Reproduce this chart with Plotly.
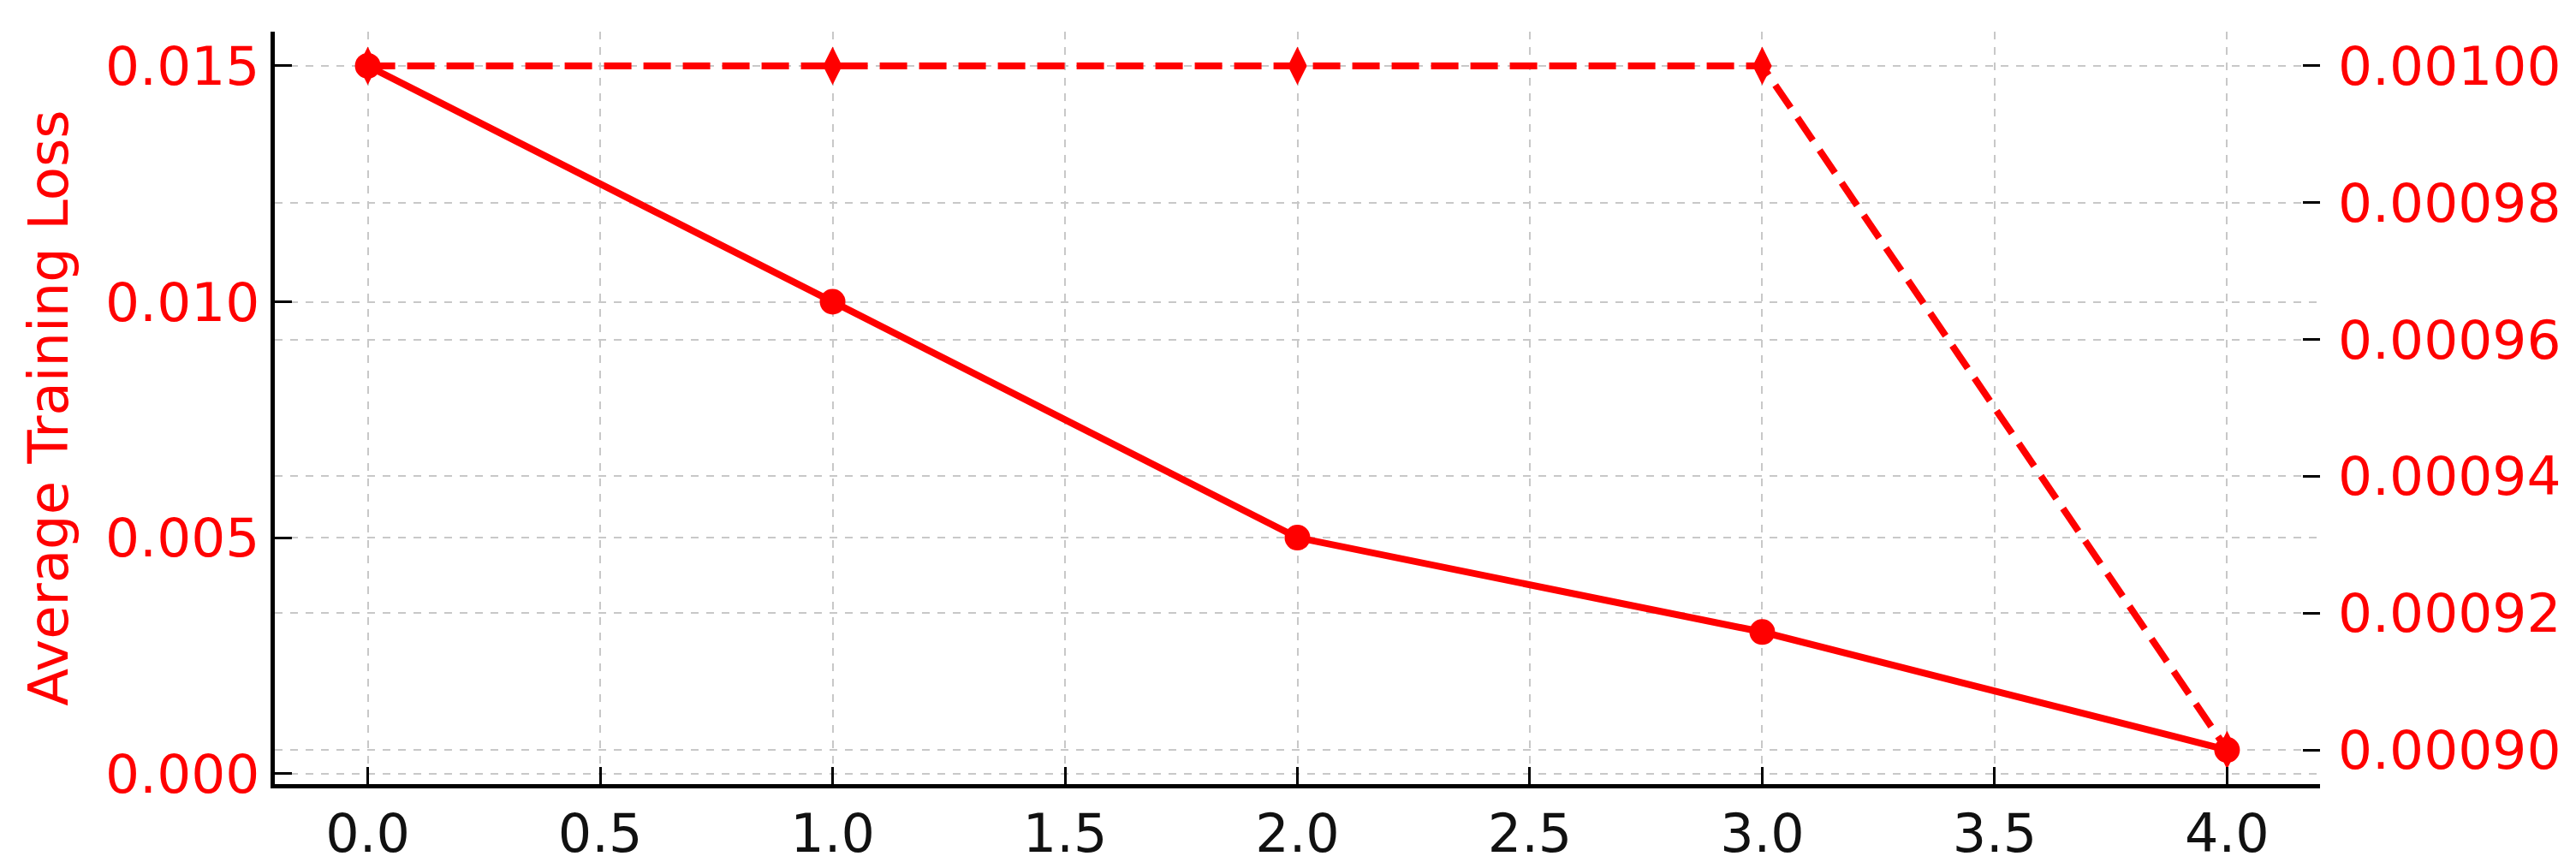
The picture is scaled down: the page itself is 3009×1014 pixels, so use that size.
import plotly.graph_objects as go

epochs = [0, 1, 2, 3, 4]
avg_loss = [0.015, 0.010, 0.005, 0.003, 0.0005]
lr_values = [0.00100, 0.00100, 0.00100, 0.00100, 0.00090]

red = "#ff0000"
font = "DejaVu Sans"

fig = go.Figure()

fig.add_trace(go.Scatter(
    x=epochs, y=avg_loss, mode="lines+markers", yaxis="y",
    line=dict(color=red, width=8),
    marker=dict(symbol="circle", size=30, color=red),
    showlegend=False,
))

fig.add_trace(go.Scatter(
    x=epochs, y=lr_values, mode="lines+markers", yaxis="y2",
    line=dict(color=red, width=8, dash="32px,14px"),
    marker=dict(symbol="diamond-tall", size=32, color=red),
    showlegend=False,
))

grid = dict(showgrid=True, gridcolor="#c8c8c8", gridwidth=2, griddash="dash", zeroline=False)

fig.update_layout(
    width=3009, height=1014,
    margin=dict(l=313, r=307, t=29, b=91),
    plot_bgcolor="white", paper_bgcolor="white",
    font=dict(family=font, size=62, color="#111111"),
    xaxis=dict(
        range=[-0.2, 4.2], dtick=0.5, tick0=0, tickformat=".1f",
        showline=True, linecolor="black", linewidth=5,
        ticks="inside", ticklen=20, tickwidth=3, tickcolor="black",
        tickfont=dict(size=62, color="#111111"),
        **grid,
    ),
    yaxis=dict(
        range=[-0.000225, 0.015725], dtick=0.005, tick0=0, tickformat=".3f",
        showline=True, linecolor="black", linewidth=5,
        ticks="inside", ticklen=20, tickwidth=3, tickcolor="black",
        tickfont=dict(size=63, color=red),
        title=dict(text="Average Training Loss", font=dict(size=64, color=red), standoff=24),
        **grid,
    ),
    yaxis2=dict(
        range=[0.000895, 0.001005], dtick=0.00002, tick0=0.0009, tickformat=".5f",
        overlaying="y", side="right", anchor="x", showline=False,
        ticks="inside", ticklen=20, tickwidth=3, tickcolor="black",
        ticklabelstandoff=20,
        tickfont=dict(size=63, color=red),
        **grid,
    ),
)

fig.write_html("out.html")
